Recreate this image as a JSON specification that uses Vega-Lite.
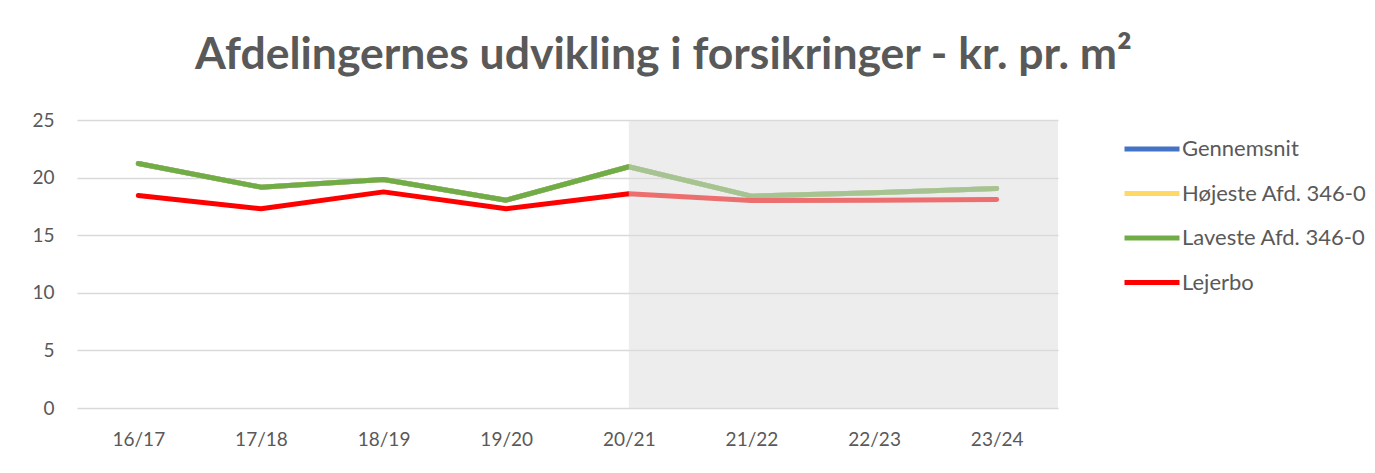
{
  "$schema": "https://vega.github.io/schema/vega-lite/v6.json",
  "autosize": {"type": "none"},
  "width": 981,
  "height": 288,
  "padding": {"left": 77, "top": 120, "right": 317, "bottom": 65},
  "background": "white",
  "title": {
    "text": "Afdelingernes udvikling i forsikringer - kr. pr. m²",
    "font": "Lato",
    "fontSize": 44.5,
    "fontWeight": "bold",
    "color": "#595959",
    "anchor": "middle",
    "frame": "group",
    "dx": 96,
    "baseline": "alphabetic",
    "offset": -2
  },
  "config": {
    "view": {"stroke": null},
    "font": "Lato"
  },
  "datasets": {
    "series": [
      {"year": "16/17", "serie": "Gennemsnit", "value": 21.23},
      {"year": "17/18", "serie": "Gennemsnit", "value": 19.17},
      {"year": "18/19", "serie": "Gennemsnit", "value": 19.84},
      {"year": "19/20", "serie": "Gennemsnit", "value": 18.04},
      {"year": "20/21", "serie": "Gennemsnit", "value": 20.94},
      {"year": "21/22", "serie": "Gennemsnit", "value": 18.39},
      {"year": "22/23", "serie": "Gennemsnit", "value": 18.68},
      {"year": "23/24", "serie": "Gennemsnit", "value": 19.05},
      {"year": "16/17", "serie": "Højeste Afd. 346-0", "value": 21.23},
      {"year": "17/18", "serie": "Højeste Afd. 346-0", "value": 19.17},
      {"year": "18/19", "serie": "Højeste Afd. 346-0", "value": 19.84},
      {"year": "19/20", "serie": "Højeste Afd. 346-0", "value": 18.04},
      {"year": "20/21", "serie": "Højeste Afd. 346-0", "value": 20.94},
      {"year": "21/22", "serie": "Højeste Afd. 346-0", "value": 18.39},
      {"year": "22/23", "serie": "Højeste Afd. 346-0", "value": 18.68},
      {"year": "23/24", "serie": "Højeste Afd. 346-0", "value": 19.05},
      {"year": "16/17", "serie": "Laveste Afd. 346-0", "value": 21.23},
      {"year": "17/18", "serie": "Laveste Afd. 346-0", "value": 19.17},
      {"year": "18/19", "serie": "Laveste Afd. 346-0", "value": 19.84},
      {"year": "19/20", "serie": "Laveste Afd. 346-0", "value": 18.04},
      {"year": "20/21", "serie": "Laveste Afd. 346-0", "value": 20.94},
      {"year": "21/22", "serie": "Laveste Afd. 346-0", "value": 18.39},
      {"year": "22/23", "serie": "Laveste Afd. 346-0", "value": 18.68},
      {"year": "23/24", "serie": "Laveste Afd. 346-0", "value": 19.05},
      {"year": "16/17", "serie": "Lejerbo", "value": 18.45},
      {"year": "17/18", "serie": "Lejerbo", "value": 17.29},
      {"year": "18/19", "serie": "Lejerbo", "value": 18.76},
      {"year": "19/20", "serie": "Lejerbo", "value": 17.29},
      {"year": "20/21", "serie": "Lejerbo", "value": 18.59},
      {"year": "21/22", "serie": "Lejerbo", "value": 18.01},
      {"year": "22/23", "serie": "Lejerbo", "value": 18.04},
      {"year": "23/24", "serie": "Lejerbo", "value": 18.1}
    ]
  },
  "layer": [
    {
      "data": {"name": "series"},
      "mark": {"type": "line", "strokeWidth": 5, "strokeCap": "round", "strokeJoin": "round"},
      "encoding": {
        "x": {
          "field": "year",
          "type": "ordinal",
          "scale": {"type": "point", "padding": 0.5},
          "sort": null,
          "axis": {
            "title": null,
            "domain": false,
            "ticks": false,
            "labelAngle": 0,
            "labelFontSize": 19,
            "labelColor": "#595959",
            "labelPadding": 22,
            "grid": false
          }
        },
        "y": {
          "field": "value",
          "type": "quantitative",
          "scale": {"domain": [0, 25], "nice": false},
          "axis": {
            "title": null,
            "values": [0, 5, 10, 15, 20, 25],
            "domain": false,
            "ticks": false,
            "labelFontSize": 19,
            "labelColor": "#595959",
            "labelPadding": 23,
            "gridColor": "#D9D9D9",
            "gridWidth": 1.5
          }
        },
        "color": {
          "field": "serie",
          "type": "nominal",
          "scale": {
            "domain": ["Gennemsnit", "Højeste Afd. 346-0", "Laveste Afd. 346-0", "Lejerbo"],
            "range": ["#4472C4", "#FFD966", "#70AD47", "#FF0000"]
          },
          "legend": {
            "title": null,
            "orient": "none",
            "legendX": 1045,
            "legendY": -1,
            "symbolType": "stroke",
            "symbolSize": 3025,
            "symbolStrokeWidth": 5,
            "labelFontSize": 22,
            "labelLimit": 300,
            "labelColor": "#595959",
            "labelOffset": 0,
            "rowPadding": 3.5
          }
        }
      }
    },
    {
      "data": {"values": [{"from": "20/21"}]},
      "mark": {"type": "rect", "color": "#DCDCDC", "opacity": 0.5},
      "encoding": {
        "x": {"field": "from", "type": "ordinal"},
        "x2": {"value": {"expr": "width"}},
        "y": {"datum": 25},
        "y2": {"datum": 0}
      }
    }
  ]
}
